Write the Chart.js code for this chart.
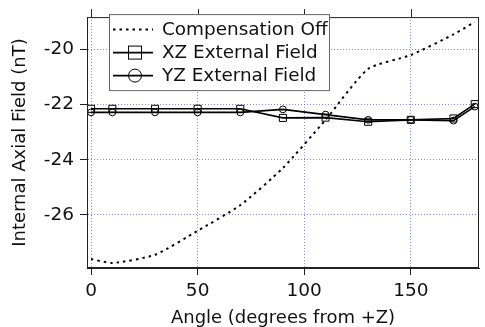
<!DOCTYPE html>
<html>
<head>
<meta charset="utf-8">
<script src="https://cdn.jsdelivr.net/npm/chart.js@4"></script>
<style>
  html, body { margin: 0; padding: 0; background: #fff; }
  canvas { display: block; }
</style>
</head>
<body>
<canvas id="fieldChart" width="485" height="327"></canvas>
<script>
// rotation angle of the applied field (degrees from +Z)
const angles = [0, 10, 30, 50, 70, 90, 110, 130, 150, 170, 180];
// internal axial field (nT)
const compensationOff = [-27.6, -27.75, -27.45, -26.58, -25.65, -24.3, -22.55, -20.7, -20.2, -19.45, -19.0];
const xzField = [-22.15, -22.15, -22.15, -22.15, -22.15, -22.48, -22.47, -22.62, -22.55, -22.5, -21.98];
const yzField = [-22.28, -22.28, -22.28, -22.28, -22.28, -22.17, -22.36, -22.55, -22.55, -22.58, -22.07];

const seriesLabels = ['Compensation Off', 'XZ External Field', 'YZ External Field'];
const xTickValues = [0, 50, 100, 150];
const yTickValues = [-26, -24, -22, -20];

const FONT = '"DejaVu Sans", Verdana, sans-serif';
const INK = '#111';
const GRID = 'rgba(95, 95, 200, 0.75)';

Chart.defaults.font.family = FONT;
Chart.defaults.font.size = 18.5;
Chart.defaults.color = INK;

const pairs = vals => angles.map((a, i) => ({ x: a, y: vals[i] }));

// box frame, top tick marks and the boxed legend in the upper left
const frameAndLegend = {
    id: 'frameAndLegend',
    afterDraw(chart) {
        const { ctx, chartArea: a, scales } = chart;
        ctx.save();
        ctx.strokeStyle = '#222';
        ctx.lineWidth = 1;
        ctx.setLineDash([]);
        ctx.strokeRect(a.left + 0.5, a.top + 0.5, a.right - a.left - 1, a.bottom - a.top - 1);

        ctx.beginPath();
        xTickValues.forEach(v => {
            const px = Math.round(scales.x.getPixelForValue(v)) + 0.5;
            ctx.moveTo(px, a.top);
            ctx.lineTo(px, a.top - 8);
        });
        ctx.stroke();

        const lx = a.left + 22, ly = a.top - 3, lw = 220, lh = 76;
        ctx.fillStyle = '#fff';
        ctx.fillRect(lx, ly, lw, lh);
        ctx.strokeStyle = '#666';
        ctx.strokeRect(lx + 0.5, ly + 0.5, lw, lh);

        chart.data.datasets.forEach((ds, i) => {
            const cy = ly + 15.5 + i * 23;
            ctx.strokeStyle = '#000';
            ctx.lineWidth = ds.borderWidth;
            ctx.setLineDash(ds.borderDash || []);
            ctx.beginPath();
            ctx.moveTo(lx + 4, cy);
            ctx.lineTo(lx + 44, cy);
            ctx.stroke();
            ctx.setLineDash([]);
            ctx.lineWidth = 1;
            const mx = lx + 26;
            if (ds.pointStyle === 'rect') {
                ctx.strokeRect(mx - 6.5, cy - 6.5, 13, 13);
            } else if (ds.pointStyle === 'circle') {
                ctx.beginPath();
                ctx.arc(mx, cy, 6.5, 0, Math.PI * 2);
                ctx.stroke();
            }
            ctx.fillStyle = INK;
            ctx.font = '18.4px ' + FONT;
            ctx.textBaseline = 'middle';
            ctx.textAlign = 'left';
            ctx.fillText(ds.label, lx + 53, cy + 1);
        });
        ctx.restore();
    }
};

new Chart(document.getElementById('fieldChart'), {
    type: 'line',
    data: {
        datasets: [{
            label: seriesLabels[0],
            data: pairs(compensationOff),
            borderColor: '#000', borderWidth: 2, borderDash: [2.5, 4],
            pointRadius: 0, tension: 0.2, fill: false,
        }, {
            label: seriesLabels[1],
            data: pairs(xzField),
            borderColor: '#000', borderWidth: 1.6,
            pointStyle: 'rect', pointRadius: 5, pointBorderWidth: 1,
            pointBorderColor: '#000', pointBackgroundColor: 'rgba(0,0,0,0)',
            tension: 0, fill: false,
        }, {
            label: seriesLabels[2],
            data: pairs(yzField),
            borderColor: '#000', borderWidth: 1.6,
            pointStyle: 'circle', pointRadius: 3.4, pointBorderWidth: 1,
            pointBorderColor: '#000', pointBackgroundColor: 'rgba(0,0,0,0)',
            tension: 0, fill: false,
        }]
    },
    options: {
        responsive: false, animation: false,
        layout: { padding: { left: 0, right: 1, top: 13, bottom: 0 } },
        plugins: { legend: { display: false }, tooltip: { enabled: false } },
        scales: {
            x: {
                type: 'linear', min: -1.9, max: 182,
                afterBuildTicks: s => { s.ticks = xTickValues.map(v => ({ value: v })); },
                afterFit: s => { s.height = 59; },
                grid: { color: GRID, lineWidth: 1, tickLength: 7, tickColor: '#222', tickWidth: 1 },
                border: { display: true, color: '#222', width: 1, dash: [1, 2] },
                ticks: { padding: 5, color: INK, maxRotation: 0 },
                title: { display: true, text: 'Angle (degrees from +Z)', color: INK,
                         font: { size: 18, lineHeight: 1 }, padding: { top: 0, bottom: 0 } }
            },
            y: {
                type: 'linear', min: -27.93, max: -18.82,
                afterBuildTicks: s => { s.ticks = yTickValues.map(v => ({ value: v })); },
                afterFit: s => { s.width = 87; },
                grid: { color: GRID, lineWidth: 1, tickLength: 7, tickColor: '#222', tickWidth: 1 },
                border: { display: true, color: '#222', width: 1, dash: [1, 2] },
                ticks: { padding: 6, color: INK },
                title: { display: true, text: 'Internal Axial Field (nT)', color: INK,
                         font: { size: 18, lineHeight: 1 }, padding: { top: 11, bottom: 0 } }
            }
        }
    },
    plugins: [frameAndLegend]
});
</script>
</body>
</html>
